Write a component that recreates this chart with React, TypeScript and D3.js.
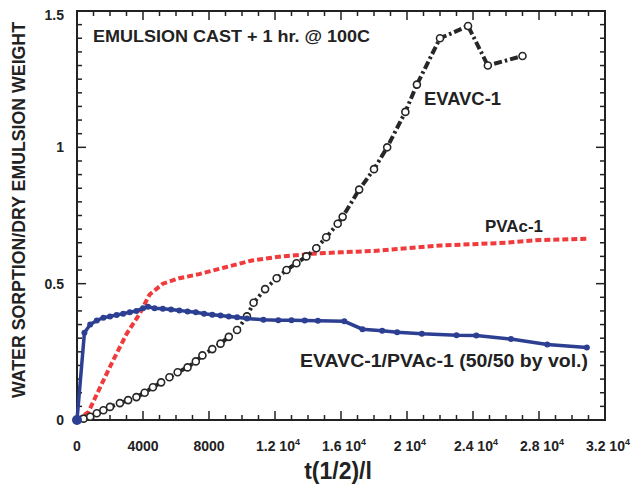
import React from "react";
import * as d3 from "d3";

const blendX = [0, 450, 800, 1200, 1600, 2000, 2400, 2800, 3200, 3600, 4000, 4300, 4700, 5200, 5700, 6200, 6700, 7200, 7700, 8200, 8700, 9200, 9700, 10300, 11300, 12200, 13000, 13800, 14600, 16200, 17300, 18500, 19400, 20900, 23000, 24200, 26300, 28500, 30900];
const blendY = [0, 0.32, 0.35, 0.365, 0.375, 0.38, 0.385, 0.39, 0.395, 0.4, 0.41, 0.415, 0.41, 0.408, 0.405, 0.402, 0.398, 0.395, 0.39, 0.386, 0.383, 0.38, 0.377, 0.372, 0.368, 0.366, 0.366, 0.365, 0.364, 0.362, 0.333, 0.327, 0.322, 0.316, 0.311, 0.31, 0.297, 0.277, 0.266];

const pvacX = [0, 700, 1400, 2200, 3000, 3800, 4400, 5200, 6200, 7400, 9000, 10600, 12400, 14300, 16000, 18000, 20000, 22000, 24000, 26000, 28000, 31000];
const pvacY = [0, 0.03, 0.12, 0.22, 0.315, 0.39, 0.46, 0.5, 0.52, 0.535, 0.56, 0.585, 0.6, 0.61, 0.615, 0.62, 0.63, 0.64, 0.645, 0.65, 0.66, 0.665];

const evavcX = [0, 400, 800, 1200, 1600, 2000, 2600, 3100, 3600, 4100, 4600, 5100, 5600, 6100, 6700, 7200, 7600, 8200, 8700, 9200, 9700, 10300, 10700, 11400, 12100, 12700, 13300, 13900, 14500, 15100, 15800, 16100, 17100, 18000, 18800, 19900, 20600, 22000, 23700, 24900, 27000];
const evavcY = [0, 0.005, 0.012, 0.025, 0.036, 0.048, 0.062, 0.073, 0.084, 0.1, 0.12, 0.138, 0.157, 0.175, 0.193, 0.215, 0.237, 0.26, 0.28, 0.305, 0.33, 0.38, 0.43, 0.48, 0.52, 0.55, 0.575, 0.6, 0.63, 0.67, 0.72, 0.745, 0.845, 0.92, 1.0, 1.13, 1.23, 1.4, 1.445, 1.3, 1.335];

const xTickValues = [0, 4000, 8000, 12000, 16000, 20000, 24000, 28000, 32000];
const xTickLabels = ["0", "4000", "8000", "1.2 10^4", "1.6 10^4", "2 10^4", "2.4 10^4", "2.8 10^4", "3.2 10^4"];
const yTickValues = [0, 0.5, 1, 1.5];
const yTickLabels = ["0", "0.5", "1", "1.5"];

const FONT = "'Liberation Sans', Arial, Helvetica, sans-serif";
const INK = "#222";

export default function App() {
  const W = 631, H = 489;
  const x = d3.scaleLinear().domain([0, 32000]).range([77, 605]);
  const y = d3.scaleLinear().domain([0, 1.5]).range([420, 11]);
  const [x0, x1] = x.range();
  const [y0, y1] = y.range();

  const zip = (xs: number[], ys: number[]) => xs.map((v, i) => [v, ys[i]] as [number, number]);
  const line = d3.line<[number, number]>().x(d => x(d[0])).y(d => y(d[1]));

  const blend = zip(blendX, blendY);
  const pvac = zip(pvacX, pvacY);
  const evavc = zip(evavcX, evavcY);

  const xMinor = d3.range(0, 32001, 1000);
  const yMinor = d3.range(0, 1.5001, 0.05);

  const ticks: any[] = [];
  xMinor.forEach((v, i) => {
    const major = Math.abs(v % 4000) < 1e-6;
    const L = major ? 9 : 5;
    const px = x(v);
    ticks.push(<line key={"xb" + i} x1={px} x2={px} y1={y0} y2={y0 - L} stroke={INK} strokeWidth={1.5} />);
    ticks.push(<line key={"xt" + i} x1={px} x2={px} y1={y1} y2={y1 + L} stroke={INK} strokeWidth={1.5} />);
  });
  yMinor.forEach((v, i) => {
    const major = Math.abs((v * 2) - Math.round(v * 2)) < 1e-6;
    const L = major ? 9 : 5;
    const py = y(v);
    ticks.push(<line key={"yl" + i} x1={x0} x2={x0 + L} y1={py} y2={py} stroke={INK} strokeWidth={1.5} />);
    ticks.push(<line key={"yr" + i} x1={x1} x2={x1 - L} y1={py} y2={py} stroke={INK} strokeWidth={1.5} />);
  });

  return (
    <svg width={W} height={H} style={{ display: "block", position: "absolute", left: 0, top: 0 }} fontFamily={FONT}>
      <rect x={0} y={0} width={W} height={H} fill="#fff" />
      {ticks}
      <rect x={x0} y={y1} width={x1 - x0} height={y0 - y1} fill="none" stroke={INK} strokeWidth={2} />

      {yTickValues.map((v, i) => (
        <text key={"yt" + i} x={64} y={y(v) + (v === 1.5 ? 4 : 0)} dy="0.35em" textAnchor="end" fontSize={14} fontWeight="bold" fill={INK}>{yTickLabels[i]}</text>
      ))}
      {xTickValues.map((v, i) => {
        const parts = xTickLabels[i].split("^");
        return (
          <text key={"xt" + i} x={x(v) + (parts[1] ? 3 : 0)} y={451} textAnchor="middle" fontSize={14} fontWeight="bold" fill={INK}>
            {parts[0]}
            {parts[1] ? <tspan dy={-6} fontSize={9}>{parts[1]}</tspan> : null}
          </text>
        );
      })}

      <text x={338} y={479} textAnchor="middle" fontSize={23} fontWeight="bold" fill={INK}>t(1/2)/l</text>
      <text transform={`translate(25,${210}) rotate(-90)`} textAnchor="middle" fontSize={17.5} fontWeight="bold" fill={INK} textLength={376} lengthAdjust="spacingAndGlyphs">WATER SORPTION/DRY EMULSION WEIGHT</text>

      <path d={line(pvac) || ""} fill="none" stroke="#f03a3c" strokeWidth={4} strokeDasharray="6,3" />

      <path d={line(evavc) || ""} fill="none" stroke="#262626" strokeWidth={4} strokeDasharray="8,3,2.5,3" />
      {evavc.map((d, i) => (
        <circle key={"ec" + i} cx={x(d[0])} cy={y(d[1])} r={3.5} fill="#fff" stroke="#262626" strokeWidth={1.6} />
      ))}

      <path d={line(blend) || ""} fill="none" stroke="#2c3f92" strokeWidth={3.5} />
      {blend.map((d, i) => (
        <circle key={"bc" + i} cx={x(d[0])} cy={y(d[1])} r={i === 0 ? 5 : 3} fill="#2c3f92" />
      ))}

      <text x={93} y={42} fontSize={17} fontWeight="bold" fill={INK} textLength={277} lengthAdjust="spacingAndGlyphs">EMULSION CAST + 1 hr. @ 100C</text>
      <text x={424} y={105} fontSize={18} fontWeight="bold" fill={INK} textLength={77} lengthAdjust="spacingAndGlyphs">EVAVC-1</text>
      <text x={485} y={232} fontSize={17} fontWeight="bold" fill={INK} textLength={58} lengthAdjust="spacingAndGlyphs">PVAc-1</text>
      <text x={300} y={367} fontSize={18.5} fontWeight="bold" fill={INK} textLength={288} lengthAdjust="spacingAndGlyphs">EVAVC-1/PVAc-1 (50/50 by vol.)</text>
    </svg>
  );
}
